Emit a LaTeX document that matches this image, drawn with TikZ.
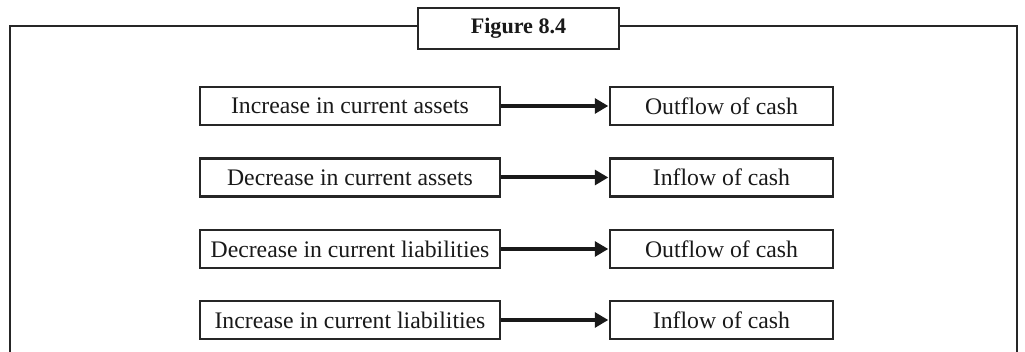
\documentclass[tikz,border=0pt]{standalone}
\usepackage{fontspec}
\setmainfont{Liberation Serif}
\usetikzlibrary{arrows.meta}

\tikzset{
  px/.style={x=0.75pt,y=-0.75pt},
  frameline/.style={line width=1.6pt,draw=black!85},
  itembox/.style={draw=black!85,line width=1.6pt,rectangle,inner sep=0pt,
    minimum height=28.5pt,font=\fontsize{17.8}{20}\selectfont,text=black!90},
  leftbox/.style={itembox,minimum width=225pt},
  rightbox/.style={itembox,minimum width=167pt},
  titlebox/.style={draw=black!85,line width=1.6pt,rectangle,inner sep=0pt,
    minimum width=150.75pt,minimum height=30.75pt,
    font=\fontsize{16.6}{19}\selectfont\bfseries,text=black!90},
  flow/.style={draw=black!90,line width=3pt,
    -{Triangle[length=10pt,width=11pt]},shorten >=0.6pt}
}

\begin{document}
\begin{tikzpicture}[px]
  \useasboundingbox (0,0) rectangle (1025,352);

  % heading box sitting on the top edge of the frame
  \node[titlebox] (title) at (518.5,28.5) {Figure 8.4};

  % open frame running from the heading down both sides
  \coordinate (tl) at (10,26);
  \coordinate (tr) at (1017,26);
  \coordinate (bl) at (10,356);
  \coordinate (br) at (1017,356);
  \draw[frameline] (title.west |- tl) -- (tl) -- (bl);
  \draw[frameline] (title.east |- tr) -- (tr) -- (br);

  % changes in working capital
  \node[leftbox] (c1) at (350,106) {Increase in current assets};
  \node[leftbox] (c2) at (350,177.5) {Decrease in current assets};
  \node[leftbox] (c3) at (350,249) {Decrease in current liabilities};
  \node[leftbox] (c4) at (350,320) {Increase in current liabilities};

  % resulting cash effects
  \node[rightbox] (e1) at (721.5,106) {Outflow of cash};
  \node[rightbox] (e2) at (721.5,177.5) {Inflow of cash};
  \node[rightbox] (e3) at (721.5,249) {Outflow of cash};
  \node[rightbox] (e4) at (721.5,320) {Inflow of cash};

  \draw[flow] (c1) -- (e1);
  \draw[flow] (c2) -- (e2);
  \draw[flow] (c3) -- (e3);
  \draw[flow] (c4) -- (e4);
\end{tikzpicture}
\end{document}
